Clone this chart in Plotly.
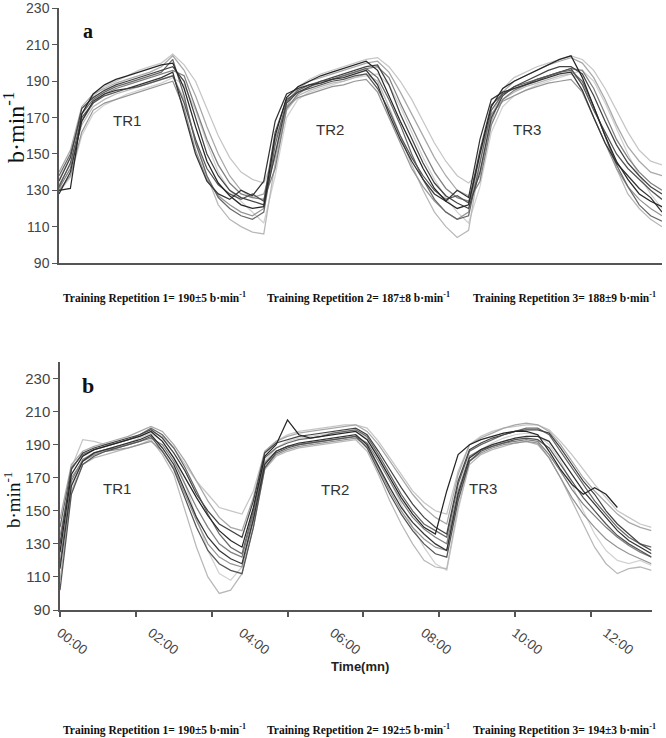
import plotly.graph_objects as go

# ---------------- DATA ----------------
# Panel a: time (min) and heart-rate traces (b·min-1)
TIME_A = [0, 0.25, 0.5, 0.75, 1.0, 1.25, 1.5, 1.75, 2.0, 2.25,
          2.5, 2.75, 3.0, 3.25, 3.5, 3.75, 4.0, 4.25, 4.5, 4.75,
          5.0, 5.25, 5.5, 5.75, 6.0, 6.25, 6.5, 6.75, 7.0, 7.25,
          7.5, 7.75, 8.0, 8.25, 8.5, 8.75, 9.0, 9.25, 9.5, 9.75,
          10.0, 10.25, 10.5, 10.75, 11.0, 11.25, 11.5, 11.75, 12.0, 12.25,
          12.5, 12.75, 13.0, 13.25]

HR_A1 = [130, 131, 172, 183, 188, 191, 193, 195, 197, 199,
         200, 186, 165, 146, 134, 127, 122, 120, 121, 160,
         181, 187, 190, 193, 195, 197, 199, 201, 196, 182,
         168, 155, 142, 131, 124, 120, 122, 150, 176, 186,
         190, 193, 196, 199, 202, 204, 192, 176, 160, 146,
         136, 128, 124, 121]
HR_A2 = [128, 140, 168, 179, 183, 185, 186, 188, 190, 192,
         195, 172, 150, 135, 128, 125, 130, 127, 135, 168,
         183, 186, 188, 189, 191, 192, 194, 196, 188, 172,
         158, 146, 136, 128, 124, 130, 126, 158, 180, 184,
         186, 188, 190, 192, 194, 195, 185, 170, 156, 145,
         138, 131, 126, 118]
HR_A3 = [135, 148, 175, 181, 185, 188, 190, 192, 194, 196,
         198, 190, 170, 150, 138, 130, 126, 124, 122, 150,
         178, 184, 187, 190, 192, 194, 196, 198, 199, 188,
         172, 158, 145, 134, 127, 123, 120, 140, 170, 182,
         187, 190, 193, 196, 198, 198, 194, 182, 168, 155,
         145, 138, 132, 128]
HR_A4 = [132, 145, 170, 178, 182, 184, 186, 187, 189, 191,
         193, 178, 158, 142, 133, 128, 125, 128, 124, 162,
         180, 184, 186, 188, 190, 191, 193, 194, 186, 174,
         160, 148, 138, 130, 125, 127, 123, 152, 177, 183,
         186, 188, 191, 193, 195, 197, 188, 174, 162, 150,
         142, 136, 130, 125]
HR_A5 = [138, 150, 172, 180, 184, 187, 189, 191, 193, 195,
         202, 182, 156, 138, 126, 120, 116, 114, 118, 155,
         179, 185, 188, 190, 191, 193, 195, 197, 192, 180,
         166, 150, 136, 125, 118, 114, 116, 145, 174, 183,
         187, 189, 191, 193, 195, 196, 190, 176, 160, 144,
         132, 122, 116, 113]
HR_A6 = [131, 142, 168, 178, 183, 186, 188, 190, 192, 194,
         196, 193, 176, 158, 144, 134, 128, 126, 125, 142,
         175, 183, 187, 189, 191, 193, 195, 197, 198, 192,
         178, 165, 152, 140, 131, 126, 124, 135, 166, 180,
         185, 188, 190, 193, 195, 197, 196, 186, 172, 158,
         148, 140, 134, 130]
HR_A7 = [130, 138, 162, 174, 178, 180, 182, 184, 186, 188,
         190, 175, 152, 136, 127, 122, 118, 116, 120, 158,
         176, 181, 183, 185, 187, 188, 190, 191, 184, 170,
         156, 142, 132, 124, 118, 114, 118, 150, 172, 179,
         182, 185, 187, 189, 190, 191, 184, 170, 155, 142,
         132, 125, 120, 116]
HR_A8 = [140, 152, 176, 183, 186, 189, 191, 193, 195, 198,
         204, 196, 182, 165, 150, 138, 130, 126, 128, 148,
         176, 186, 190, 192, 194, 196, 198, 200, 201, 195,
         184, 172, 160, 148, 138, 130, 127, 138, 168, 184,
         190, 193, 196, 199, 201, 203, 200, 192, 180, 166,
         154, 146, 140, 138]
HR_A9 = [133, 144, 166, 176, 180, 183, 185, 187, 189, 191,
         193, 180, 158, 138, 122, 114, 110, 107, 106, 145,
         174, 182, 185, 187, 189, 190, 192, 194, 190, 176,
         160, 144, 130, 118, 110, 104, 108, 146, 172, 180,
         184, 187, 189, 191, 193, 194, 190, 176, 160, 142,
         128, 120, 114, 110]
HR_A10 = [136, 148, 172, 182, 187, 190, 193, 196, 198, 200,
          205, 199, 190, 175, 160, 148, 140, 136, 134, 150,
          178, 187, 191, 194, 196, 198, 200, 202, 203, 198,
          190, 180, 168, 156, 146, 138, 134, 140, 170, 186,
          192, 195, 198, 200, 202, 204, 202, 196, 186, 174,
          162, 152, 146, 144]
HR_A11 = [129, 137, 160, 172, 177, 180, 183, 185, 187, 189,
          192, 188, 174, 156, 140, 130, 124, 118, 112, 138,
          170, 180, 184, 186, 188, 190, 192, 193, 194, 188,
          176, 162, 148, 136, 126, 118, 112, 132, 162, 176,
          182, 185, 188, 190, 192, 194, 196, 190, 178, 164,
          150, 138, 128, 120]

# Panel b
TIME_B = [0, 0.25, 0.5, 0.75, 1.0, 1.25, 1.5, 1.75, 2.0, 2.25,
          2.5, 2.75, 3.0, 3.25, 3.5, 3.75, 4.0, 4.25, 4.5, 4.75,
          5.0, 5.25, 5.5, 5.75, 6.0, 6.25, 6.5, 6.75, 7.0, 7.25,
          7.5, 7.75, 8.0, 8.25, 8.5, 8.75, 9.0, 9.25, 9.5, 9.75,
          10.0, 10.25, 10.5, 10.75, 11.0, 11.25, 11.5, 11.75, 12.0, 12.25,
          12.5, 12.75, 13.0]

HR_B1 = [125, 172, 183, 187, 189, 191, 193, 195, 198, 192,
         182, 170, 158, 147, 138, 132, 128, 152, 183, 190,
         205, 196, 194, 195, 196, 197, 198, 193, 182, 170,
         158, 148, 140, 136, 162, 184, 190, 193, 195, 197,
         198, 198, 196, 186, 175, 166, 160, 164, 160, 152,
         None, None, None]
HR_B2 = [115, 165, 180, 185, 187, 189, 191, 193, 196, 188,
         178, 162, 146, 134, 126, 121, 118, 145, 178, 186,
         189, 191, 192, 193, 194, 195, 196, 190, 177, 164,
         152, 143, 136, 130, 126, 160, 182, 187, 190, 192,
         194, 195, 195, 192, 182, 172, 162, 154, 146, 138,
         132, 128, 124]
HR_B3 = [130, 175, 185, 188, 190, 192, 194, 196, 199, 194,
         185, 174, 160, 150, 142, 138, 134, 156, 185, 191,
         193, 195, 196, 197, 198, 199, 200, 196, 186, 175,
         164, 154, 146, 140, 136, 168, 187, 191, 194, 196,
         198, 199, 199, 197, 188, 178, 168, 160, 150, 142,
         136, 130, 126]
HR_B4 = [102, 160, 178, 183, 186, 188, 190, 192, 195, 186,
         175, 158, 140, 126, 118, 114, 112, 140, 176, 185,
         188, 190, 191, 192, 193, 194, 195, 188, 174, 160,
         148, 138, 130, 124, 122, 156, 180, 186, 189, 191,
         193, 194, 193, 188, 178, 168, 158, 150, 142, 135,
         130, 126, 122]
HR_B5 = [140, 176, 184, 187, 189, 191, 193, 196, 200, 196,
         188, 176, 162, 148, 136, 128, 124, 150, 182, 188,
         191, 193, 194, 195, 197, 198, 199, 195, 184, 172,
         160, 150, 142, 138, 134, 166, 186, 190, 193, 196,
         198, 200, 200, 196, 186, 176, 166, 156, 148, 140,
         134, 130, 128]
HR_B6 = [118, 168, 181, 185, 187, 188, 190, 192, 194, 190,
         180, 166, 152, 140, 130, 125, 122, 148, 179, 186,
         189, 190, 191, 192, 193, 194, 195, 191, 180, 168,
         156, 146, 139, 134, 130, 162, 183, 187, 189, 191,
         192, 193, 192, 184, 174, 163, 154, 147, 140, 134,
         129, 125, 122]
HR_B7 = [135, 170, 180, 184, 186, 187, 188, 190, 192, 186,
         176, 160, 144, 130, 122, 118, 116, 144, 176, 184,
         187, 189, 190, 191, 192, 193, 194, 189, 176, 162,
         150, 140, 133, 128, 126, 158, 180, 185, 188, 190,
         191, 192, 191, 182, 170, 158, 148, 140, 133, 128,
         124, 121, 118]
HR_B8 = [145, 178, 186, 189, 191, 193, 195, 198, 201, 198,
         190, 180, 168, 156, 146, 140, 138, 158, 186, 192,
         195, 197, 198, 199, 200, 201, 202, 198, 190, 180,
         170, 160, 152, 146, 142, 172, 190, 194, 197, 200,
         202, 203, 202, 198, 190, 180, 170, 162, 155, 148,
         143, 140, 138]
HR_B9 = [108, 162, 178, 182, 184, 186, 188, 190, 193, 184,
         172, 150, 128, 110, 100, 102, 112, 140, 175, 183,
         186, 188, 189, 190, 191, 192, 193, 186, 172, 156,
         142, 130, 120, 116, 115, 152, 178, 184, 187, 189,
         191, 192, 190, 182, 170, 156, 142, 128, 118, 112,
         115, 116, 114]
HR_B10 = [128, 176, 193, 192, 190, 191, 193, 195, 198, 195,
          188, 178, 168, 160, 152, 150, 148, 162, 186, 192,
          196, 198, 199, 200, 201, 202, 202, 200, 192, 182,
          172, 162, 155, 150, 148, 174, 190, 195, 198, 200,
          201, 202, 202, 199, 192, 184, 175, 166, 158, 150,
          146, 142, 140]
HR_B11 = [122, 166, 180, 184, 187, 189, 191, 194, 197, 192,
          182, 166, 146, 126, 112, 108, 116, 146, 180, 188,
          192, 194, 195, 196, 197, 198, 199, 194, 182, 168,
          154, 140, 128, 118, 114, 150, 180, 187, 191, 194,
          196, 197, 196, 190, 180, 166, 150, 136, 126, 120,
          118, 120, 117]

Y_TICKS = [90, 110, 130, 150, 170, 190, 210, 230]
X_TICK_VALS = [0, 2, 4, 6, 8, 10, 12]
X_TICK_TEXT = ["00:00", "02:00", "04:00", "06:00", "08:00", "10:00", "12:00"]

PANEL_A_LABELS = ["TR1", "TR2", "TR3"]
PANEL_B_LABELS = ["TR1", "TR2", "TR3"]
SUMMARY_A = ["Training Repetition 1= 190±5 b·min<sup>-1</sup>",
             "Training Repetition 2= 187±8 b·min<sup>-1</sup>",
             "Training Repetition 3= 188±9 b·min<sup>-1</sup>"]
SUMMARY_B = ["Training Repetition 1= 190±5 b·min<sup>-1</sup>",
             "Training Repetition 2= 192±5 b·min<sup>-1</sup>",
             "Training Repetition 3= 194±3 b·min<sup>-1</sup>"]

# ---------------- STYLE ----------------
W, H = 666, 738
GRAYS = ["#262626", "#343434", "#444444", "#555555", "#686868", "#808080",
         "#959595", "#a8a8a8", "#b8b8b8", "#c6c6c6", "#d2d2d2"]
SANS = "Liberation Sans, Arial, sans-serif"
SERIF = "Liberation Serif, Times New Roman, serif"


def px(x):
    return x / W


def py(y):
    return 1 - y / H


fig = go.Figure()

series_a = [HR_A1, HR_A2, HR_A3, HR_A4, HR_A5, HR_A6, HR_A7, HR_A8, HR_A9, HR_A10, HR_A11]
series_b = [HR_B1, HR_B2, HR_B3, HR_B4, HR_B5, HR_B6, HR_B7, HR_B8, HR_B9, HR_B10, HR_B11]

# lighter lines first so darker ones sit on top
for i in reversed(range(len(series_a))):
    fig.add_trace(go.Scatter(x=TIME_A, y=series_a[i], mode="lines",
                             line=dict(color=GRAYS[i], width=1.25),
                             xaxis="x", yaxis="y", showlegend=False,
                             connectgaps=False))
for i in reversed(range(len(series_b))):
    fig.add_trace(go.Scatter(x=TIME_B, y=series_b[i], mode="lines",
                             line=dict(color=GRAYS[i], width=1.25),
                             xaxis="x2", yaxis="y2", showlegend=False,
                             connectgaps=False))

axis_common = dict(showgrid=False, zeroline=False, automargin=False,
                   showline=True, linecolor="#555555", ticklabeloverflow="allow")

fig.update_layout(
    width=W, height=H,
    margin=dict(l=0, r=0, t=0, b=0),
    paper_bgcolor="white", plot_bgcolor="white",
    showlegend=False,
    xaxis=dict(domain=[px(59), px(662)], range=[0, 13.25], anchor="y",
               showticklabels=False, ticks="", linewidth=2, **axis_common),
    yaxis=dict(domain=[py(263), py(8)], range=[90, 230.3], anchor="x",
               tickmode="array", tickvals=Y_TICKS, ticks="outside", ticklen=5,
               tickcolor="#555555", linewidth=1.5,
               tickfont=dict(family=SANS, size=14, color="#444444"), **axis_common),
    xaxis2=dict(domain=[px(60), px(651.5)], range=[0, 13.0], anchor="y2",
                tickmode="array", tickvals=X_TICK_VALS, ticktext=X_TICK_TEXT,
                ticks="", tickangle=37, ticklabelstandoff=8,
                tickfont=dict(family=SANS, size=13.5, color="#444444"),
                minor=dict(tickmode="linear", tick0=0, dtick=5 / 3, ticks="outside",
                           ticklen=5, tickcolor="#555555", tickwidth=1.5),
                linewidth=2, **axis_common),
    yaxis2=dict(domain=[py(610), py(362)], range=[90, 240], anchor="x2",
                tickmode="array", tickvals=Y_TICKS, ticks="outside", ticklen=5,
                tickcolor="#555555", linewidth=1.5,
                tickfont=dict(family=SANS, size=15, color="#444444"), **axis_common),
)


def note(text, x, y, size, family, color="#111111", angle=0):
    return dict(text=text, x=px(x), y=py(y), xref="paper", yref="paper",
                xanchor="center", yanchor="middle", showarrow=False,
                textangle=angle, font=dict(family=family, size=size, color=color))


ann = []
# y-axis titles
ann.append(note("b·min<sup>-1</sup>", 14, 128, 24, SERIF, angle=-90))
ann.append(note("b·min<sup>-1</sup>", 12, 500, 19, SERIF, angle=-90))
# panel letters
ann.append(note("<b>a</b>", 88, 31, 20, SERIF))
ann.append(note("<b>b</b>", 88, 385, 22, SERIF))
# TR labels
for lab, (x, y) in zip(PANEL_A_LABELS, [(127, 121), (330, 130), (527, 130)]):
    ann.append(note(lab, x, y, 15, SANS, color="#333333"))
for lab, (x, y) in zip(PANEL_B_LABELS, [(117, 488), (335, 490), (483, 488)]):
    ann.append(note(lab, x, y, 15, SANS, color="#333333"))
# x-axis title
ann.append(note("<b>Time(mn)</b>", 360, 666, 13, SANS, color="#222222"))
# summary texts
for txt, x in zip(SUMMARY_A, [154, 358, 564]):
    ann.append(note("<b>" + txt + "</b>", x, 297, 11.5, SERIF))
for txt, x in zip(SUMMARY_B, [154, 358, 564]):
    ann.append(note("<b>" + txt + "</b>", x, 729, 11.5, SERIF))

fig.update_layout(annotations=ann)

fig.write_html("out.html", config={"displayModeBar": False},
               post_script="document.body.style.margin='0px';")
